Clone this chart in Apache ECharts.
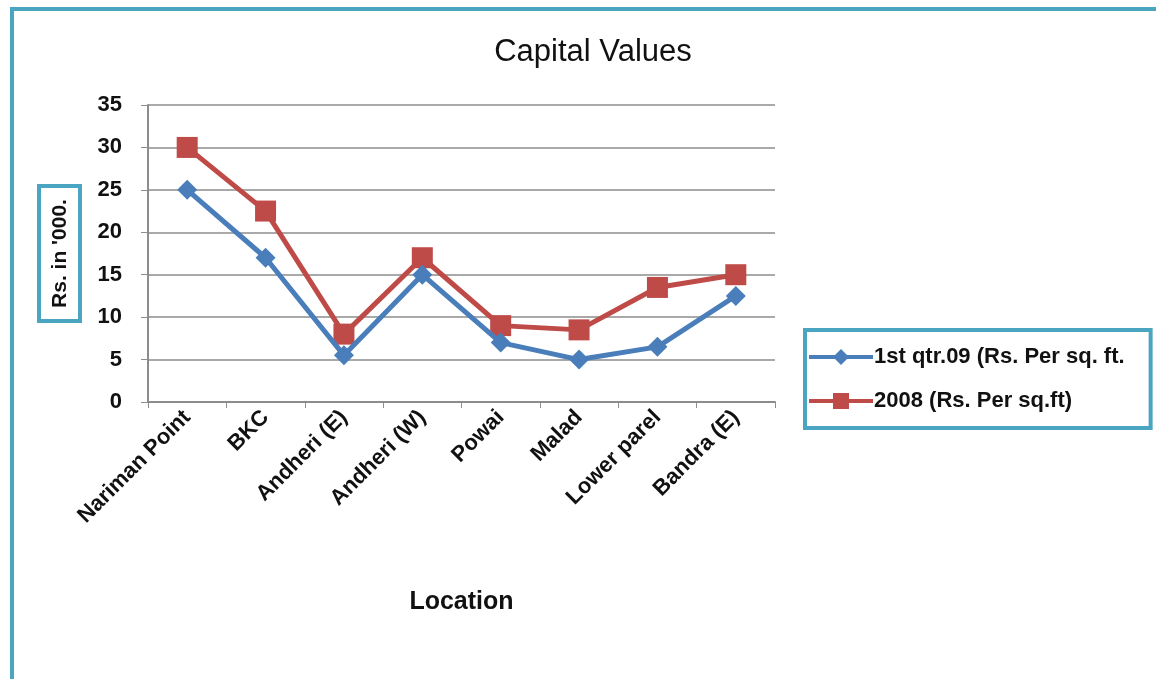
<!DOCTYPE html>
<html style="height: 100%;">
<head>
<meta charset="utf-8">
<title>Capital Values</title>
<script src="https://cdn.jsdelivr.net/npm/echarts@6/dist/echarts.min.js"></script>
</head>
<body style="height: 100%; margin: 0; background: #fff;">
<div id="container" style="width: 1156px; height: 679px;"></div>
<script type="text/javascript">
// locations and values (Rs. in '000 per sq. ft.)
var locations = ['Nariman Point', 'BKC', 'Andheri (E)', 'Andheri (W)', 'Powai', 'Malad', 'Lower parel', 'Bandra (E)'];
var qtr09 = [25, 17, 5.5, 15, 7, 5, 6.5, 12.5];
var y2008 = [30, 22.5, 8, 17, 9, 8.5, 13.5, 15];
var seriesNames = ['1st qtr.09 (Rs. Per sq. ft.', '2008 (Rs. Per sq.ft)'];

var dom = document.getElementById('container');
var myChart = echarts.init(dom);
var frame = '#4aa6c0';
var font = '"Liberation Sans", Arial, sans-serif';
var narrow = '"Liberation Sans Narrow", "Liberation Sans", Arial, sans-serif';

var option = {
    backgroundColor: '#ffffff',
    animation: false,
    title: {
        text: 'Capital Values',
        left: 588,
        top: 32,
        textAlign: 'center',
        textStyle: { fontFamily: font, fontWeight: 'normal', fontSize: 31, color: '#111' }
    },
    // outer frame: top and left edges only
    graphic: [
        { type: 'line', shape: { x1: 10, y1: 9, x2: 1156, y2: 9 }, style: { stroke: frame, lineWidth: 4 } },
        { type: 'line', shape: { x1: 12, y1: 9, x2: 12, y2: 679 }, style: { stroke: frame, lineWidth: 4 } }
    ],
    legend: {
        orient: 'vertical',
        left: 805,
        top: 330,
        padding: [16, 26, 16, 2],
        itemGap: 22,
        itemWidth: 64,
        itemHeight: 20,
        borderColor: frame,
        borderWidth: 4,
        borderRadius: 0,
        lineStyle: { width: 4 },
        textStyle: { fontFamily: font, fontWeight: 'bold', fontSize: 22, color: '#111', padding: [0, 0, 0, -4] },
        data: seriesNames
    },
    grid: { left: 148, right: 381, top: 105, bottom: 277 },
    xAxis: {
        type: 'category',
        data: locations,
        boundaryGap: true,
        name: 'Location',
        nameLocation: 'middle',
        nameGap: 188,
        nameTextStyle: { fontFamily: narrow, fontWeight: 'bold', fontSize: 25, color: '#111' },
        axisLine: { lineStyle: { color: '#8c8c8c', width: 2 } },
        axisTick: { show: true, length: 6, lineStyle: { color: '#8c8c8c', width: 1 } },
        axisLabel: { rotate: 45, margin: 12, interval: 0, fontFamily: font, fontWeight: 'bold', fontSize: 22, color: '#111' }
    },
    yAxis: {
        type: 'value',
        min: 0,
        max: 35,
        interval: 5,
        name: "Rs. in '000.",
        nameLocation: 'middle',
        nameGap: 68,
        nameRotate: 90,
        nameTextStyle: {
            fontFamily: font, fontWeight: 'bold', fontSize: 21, color: '#111',
            borderColor: frame, borderWidth: 4, padding: [11, 13, 9, 13]
        },
        axisLine: { show: true, lineStyle: { color: '#8c8c8c', width: 2 } },
        axisTick: { show: true, length: 7, lineStyle: { color: '#8c8c8c', width: 1 } },
        axisLabel: { margin: 26, fontFamily: font, fontWeight: 'bold', fontSize: 22, color: '#111' },
        splitLine: { lineStyle: { color: '#8c8c8c', width: 1.5 } }
    },
    series: [
        {
            name: seriesNames[0],
            type: 'line',
            data: qtr09,
            symbol: 'diamond',
            symbolSize: 20,
            itemStyle: { color: '#4a7ebb' },
            lineStyle: { color: '#4a7ebb', width: 5 },
            z: 3
        },
        {
            name: seriesNames[1],
            type: 'line',
            data: y2008,
            symbol: 'rect',
            symbolSize: 21,
            itemStyle: { color: '#be4b48' },
            lineStyle: { color: '#be4b48', width: 5 },
            z: 2
        }
    ]
};
myChart.setOption(option);
window.onresize = function () {
    myChart.resize();
};
</script>
</body>
</html>
